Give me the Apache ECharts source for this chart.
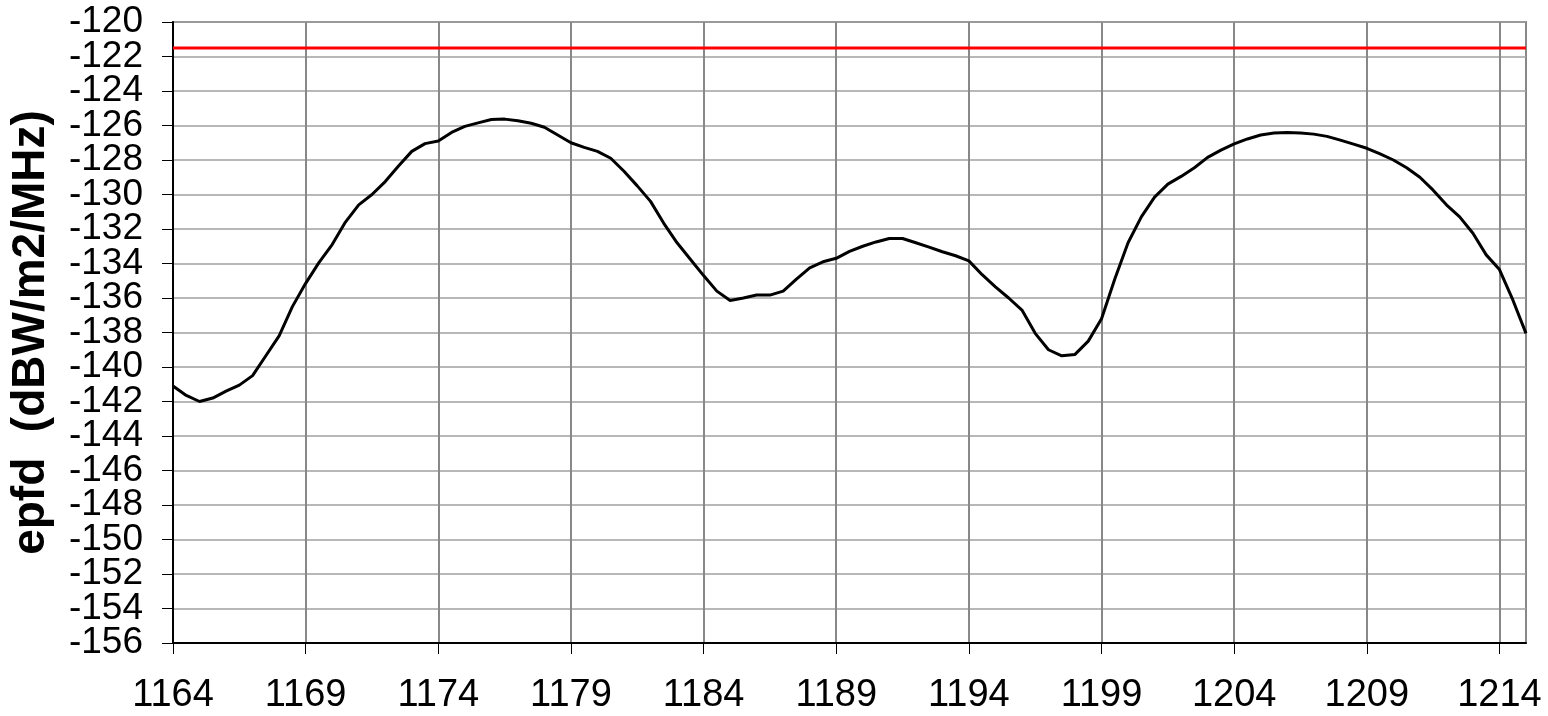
<!DOCTYPE html>
<html>
<head>
<meta charset="utf-8">
<title>epfd</title>
<script src="https://cdn.jsdelivr.net/npm/echarts@6/dist/echarts.min.js"></script>
<style>
  html, body { margin: 0; padding: 0; background: #fff; }
  #echart-line { width: 1548px; height: 716px; }
</style>
</head>
<body>
<div id="echart-line"></div>
<script>
// frequency (MHz)
const freqs = [
  1164, 1164.5, 1165, 1165.5, 1166, 1166.5, 1167, 1167.5, 1168, 1168.5,
  1169, 1169.5, 1170, 1170.5, 1171, 1171.5, 1172, 1172.5, 1173, 1173.5,
  1174, 1174.5, 1175, 1175.5, 1176, 1176.5, 1177, 1177.5, 1178, 1178.5,
  1179, 1179.5, 1180, 1180.5, 1181, 1181.5, 1182, 1182.5, 1183, 1183.5,
  1184, 1184.5, 1185, 1185.5, 1186, 1186.5, 1187, 1187.5, 1188, 1188.5,
  1189, 1189.5, 1190, 1190.5, 1191, 1191.5, 1192, 1192.5, 1193, 1193.5,
  1194, 1194.5, 1195, 1195.5, 1196, 1196.5, 1197, 1197.5, 1198, 1198.5,
  1199, 1199.5, 1200, 1200.5, 1201, 1201.5, 1202, 1202.5, 1203, 1203.5,
  1204, 1204.5, 1205, 1205.5, 1206, 1206.5, 1207, 1207.5, 1208, 1208.5,
  1209, 1209.5, 1210, 1210.5, 1211, 1211.5, 1212, 1212.5, 1213, 1213.5,
  1214, 1214.5, 1215
]
// epfd (dBW/m2/MHz)
const epfd = [
  -141.1, -141.65, -142.0, -141.8, -141.4, -141.05, -140.5, -139.35, -138.2, -136.5,
  -135.15, -133.95, -132.9, -131.6, -130.6, -130.0, -129.25, -128.35, -127.5, -127.05,
  -126.9, -126.4, -126.05, -125.85, -125.65, -125.63, -125.72, -125.87, -126.1, -126.55,
  -127.0, -127.27, -127.5, -127.9, -128.65, -129.5, -130.4, -131.67, -132.8, -133.75,
  -134.7, -135.6, -136.15, -136.0, -135.83, -135.83, -135.6, -134.9, -134.25, -133.9,
  -133.7, -133.3, -133.0, -132.75, -132.55, -132.55, -132.8, -133.05, -133.32, -133.55,
  -133.85, -134.65, -135.35, -136.0, -136.7, -138.05, -139.0, -139.35, -139.27, -138.5,
  -137.2, -134.9, -132.8, -131.3, -130.15, -129.4, -128.95, -128.45, -127.85, -127.43,
  -127.07, -126.78, -126.55, -126.43, -126.41, -126.44, -126.5, -126.63, -126.85, -127.08,
  -127.32, -127.65, -128.0, -128.45, -129.0, -129.75, -130.6, -131.3, -132.25, -133.5,
  -134.35, -136.1, -138.05
]
// limit line
const limitFreqs = [1164, 1215]
const limitValues = [-121.5, -121.5]

const xTicks = [1164, 1169, 1174, 1179, 1184, 1189, 1194, 1199, 1204, 1209, 1214]
const yEndTicks = [-156, -120]

const font = 'Liberation Sans, Arial, sans-serif'

function initChart () {
  const getchart = echarts.init(document.getElementById('echart-line'), null, { renderer: 'canvas' })
  const yLabel = { color: '#000', fontFamily: font, fontSize: 37, margin: 30 }
  const option = {
    backgroundColor: '#fff',
    animation: false,
    grid: {
      left: 173,
      right: 22,
      top: 22,
      bottom: 73,
      containLabel: false,
      outerBoundsMode: 'none',
      show: true,
      borderColor: '#888',
      borderWidth: 2
    },
    xAxis: {
      type: 'value',
      min: 1164,
      max: 1215,
      axisLine: { lineStyle: { color: '#000', width: 2 } },
      axisTick: { customValues: xTicks, length: 11, lineStyle: { color: '#000', width: 1 } },
      axisLabel: {
        customValues: xTicks,
        formatter: v => String(v),
        color: '#000',
        fontFamily: font,
        fontSize: 38,
        margin: 34
      },
      splitLine: { show: true, lineStyle: { color: '#888', width: 2 } }
    },
    yAxis: [
      {
        type: 'value',
        min: -156,
        max: -120,
        interval: 2,
        name: 'epfd  (dBW/m2/MHz)',
        nameLocation: 'middle',
        nameRotate: 90,
        nameGap: 119,
        nameTextStyle: { color: '#000', fontFamily: font, fontSize: 46, fontWeight: 'bold' },
        axisLine: { show: true, lineStyle: { color: '#000', width: 2 } },
        axisTick: { show: true, length: 11, lineStyle: { color: '#000', width: 1 } },
        // end labels come from the second axis, so none get dropped as overlapping
        axisLabel: Object.assign({ showMinLabel: false, showMaxLabel: false, formatter: v => String(v) }, yLabel),
        splitLine: { show: true, lineStyle: { color: '#a0a0a0', width: 1.5 } }
      },
      {
        type: 'value',
        position: 'left',
        min: -156,
        max: -120,
        axisLine: { show: false },
        axisTick: { show: true, customValues: yEndTicks, length: 11, lineStyle: { color: '#000', width: 1 } },
        axisLabel: Object.assign({ customValues: yEndTicks, formatter: v => String(v) }, yLabel),
        splitLine: { show: false }
      }
    ],
    series: [
      {
        name: 'epfd',
        type: 'line',
        data: freqs.map((f, i) => [f, epfd[i]]),
        showSymbol: false,
        lineStyle: { color: '#000', width: 3 },
        z: 3
      },
      {
        name: 'limit',
        type: 'line',
        data: limitFreqs.map((f, i) => [f, limitValues[i]]),
        showSymbol: false,
        lineStyle: { color: '#ff0000', width: 3 },
        z: 4
      }
    ]
  }
  getchart.setOption(option)
}

initChart()
</script>
</body>
</html>
